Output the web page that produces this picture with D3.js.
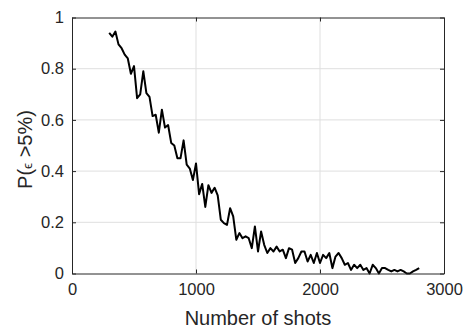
<!DOCTYPE html>
<html>
<head>
<meta charset="utf-8">
<script src="https://cdn.jsdelivr.net/npm/d3@7"></script>
<style>
  body { margin: 0; background: #fff; }
  svg { display: block; font-family: "Liberation Sans", Arial, sans-serif; }
</style>
</head>
<body>
<svg id="chart" width="465" height="329"></svg>
<script>
const shots = [
    300, 325, 350, 375, 400, 425, 450, 475, 500, 525,
    550, 575, 600, 625, 650, 675, 700, 725, 750, 775,
    800, 825, 850, 875, 900, 925, 950, 975, 1000, 1025,
    1050, 1075, 1100, 1125, 1150, 1175, 1200, 1225, 1250, 1275,
    1300, 1325, 1350, 1375, 1400, 1425, 1450, 1475, 1500, 1525,
    1550, 1575, 1600, 1625, 1650, 1675, 1700, 1725, 1750, 1775,
    1800, 1825, 1850, 1875, 1900, 1925, 1950, 1975, 2000, 2025,
    2050, 2075, 2100, 2125, 2150, 2175, 2200, 2225, 2250, 2275,
    2300, 2325, 2350, 2375, 2400, 2425, 2450, 2475, 2500, 2525,
    2550, 2575, 2600, 2625, 2650, 2675, 2700, 2725, 2750, 2775,
    2800
];

const probability = [
    0.94, 0.925, 0.945, 0.895, 0.88, 0.855, 0.84, 0.78, 0.81, 0.685,
    0.70, 0.79, 0.705, 0.69, 0.615, 0.62, 0.55, 0.64, 0.57, 0.58,
    0.51, 0.50, 0.45, 0.45, 0.52, 0.425, 0.41, 0.365, 0.43, 0.31,
    0.35, 0.26, 0.345, 0.315, 0.335, 0.305, 0.21, 0.197, 0.19, 0.255,
    0.223, 0.132, 0.158, 0.138, 0.145, 0.138, 0.099, 0.184, 0.086, 0.164,
    0.112, 0.08, 0.099, 0.086, 0.105, 0.086, 0.093, 0.06, 0.099, 0.093,
    0.041, 0.06, 0.086, 0.086, 0.047, 0.073, 0.041, 0.08, 0.041, 0.073,
    0.06, 0.08, 0.021, 0.066, 0.08, 0.06, 0.034, 0.041, 0.014, 0.034,
    0.021, 0.034, 0.014, 0.021, 0.0, 0.034, 0.021, 0.0, 0.021, 0.021,
    0.014, 0.008, 0.014, 0.008, 0.014, 0.008, 0.0, 0.0, 0.008, 0.014,
    0.021
];

const xTicks = [0, 1000, 2000, 3000];
const yTicks = [0, 0.2, 0.4, 0.6, 0.8, 1];

const margin = { left: 72, right: 21, top: 17.5, bottom: 55.5 };
const width = 465 - margin.left - margin.right;
const height = 329 - margin.top - margin.bottom;

const svg = d3.select('#chart');
const g = svg.append('g')
    .attr('transform', `translate(${margin.left},${margin.top})`);

const x = d3.scaleLinear().domain([0, 3000]).range([0, width]);
const y = d3.scaleLinear().domain([0, 1]).range([height, 0]);

// grid
g.append('g')
    .selectAll('line')
    .data(xTicks.slice(1, -1))
    .enter()
    .append('line')
    .attr('x1', d => x(d)).attr('x2', d => x(d))
    .attr('y1', 0).attr('y2', height)
    .attr('stroke', '#dfdfdf');

g.append('g')
    .selectAll('line')
    .data(yTicks.slice(1, -1))
    .enter()
    .append('line')
    .attr('x1', 0).attr('x2', width)
    .attr('y1', d => y(d)).attr('y2', d => y(d))
    .attr('stroke', '#dfdfdf');

// data line
const line = d3.line()
    .x((d, i) => x(shots[i]))
    .y(d => y(d));

g.append('path')
    .datum(probability)
    .attr('d', line)
    .attr('fill', 'none')
    .attr('stroke', '#000')
    .attr('stroke-width', 2)
    .attr('stroke-linejoin', 'round');

// axes, ticks pointing inward on all four sides
function styleAxis(sel) {
    sel.select('.domain').attr('stroke', '#262626');
    sel.selectAll('.tick line').attr('stroke', '#262626');
    sel.selectAll('.tick text')
        .attr('fill', '#262626')
        .style('font-size', '16.5px');
}

g.append('g')
    .attr('transform', `translate(0,${height})`)
    .call(d3.axisBottom(x).tickValues(xTicks).tickFormat(d3.format('d'))
        .tickSizeInner(-4).tickSizeOuter(0).tickPadding(10))
    .call(styleAxis);

g.append('g')
    .call(d3.axisTop(x).tickValues(xTicks).tickFormat('')
        .tickSizeInner(-4).tickSizeOuter(0))
    .call(styleAxis);

g.append('g')
    .call(d3.axisLeft(y).tickValues(yTicks).tickFormat(d3.format('~g'))
        .tickSizeInner(-4).tickSizeOuter(0).tickPadding(8))
    .call(styleAxis);

g.append('g')
    .attr('transform', `translate(${width},0)`)
    .call(d3.axisRight(y).tickValues(yTicks).tickFormat('')
        .tickSizeInner(-4).tickSizeOuter(0))
    .call(styleAxis);

svg.selectAll('.domain, .tick line').attr('stroke-width', 1);

// labels
svg.append('text')
    .attr('x', margin.left + width / 2)
    .attr('y', 325)
    .attr('text-anchor', 'middle')
    .attr('fill', '#262626')
    .style('font-size', '20px')
    .text('Number of shots');

const yLabel = svg.append('text')
    .attr('transform', `translate(32,${margin.top + height / 2 + 4}) rotate(-90)`)
    .attr('text-anchor', 'middle')
    .attr('fill', '#262626')
    .style('font-size', '20px');
yLabel.append('tspan').text('P(');
yLabel.append('tspan').style('font-size', '13.5px').text('ϵ');
yLabel.append('tspan').text(' >5%)');
</script>
</body>
</html>
